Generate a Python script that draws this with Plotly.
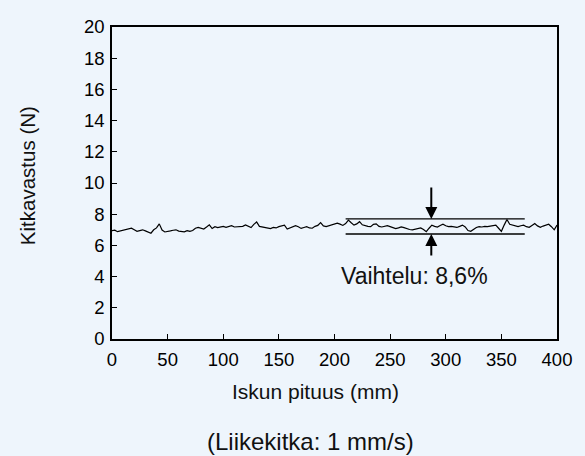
import plotly.graph_objects as go

# stroke position (mm) and friction (N)
x_mm = [i * 2.5 for i in range(161)]
friction = [
    6.95, 6.98, 6.88, 6.92, 6.97, 7.00, 7.04, 7.10, 7.00, 6.90,
    6.95, 7.00, 6.93, 6.85, 6.78, 7.00, 7.12, 7.38, 6.98, 6.86,
    6.88, 6.93, 6.97, 7.00, 6.92, 6.88, 6.87, 6.95, 6.90, 6.95,
    7.10, 7.15, 7.12, 7.05, 7.18, 7.32, 7.08, 7.20, 7.14, 7.18,
    7.22, 7.16, 7.20, 7.26, 7.18, 7.20, 7.24, 7.22, 7.31, 7.20,
    7.14, 7.35, 7.50, 7.22, 7.18, 7.14, 7.10, 7.08, 7.15, 7.12,
    7.20, 7.26, 7.30, 7.05, 7.12, 7.18, 7.26, 7.20, 7.09, 7.15,
    7.20, 7.12, 7.10, 7.22, 7.28, 7.46, 7.25, 7.20, 7.26, 7.32,
    7.38, 7.42, 7.36, 7.28, 7.40, 7.62, 7.45, 7.30, 7.38, 7.52,
    7.32, 7.25, 7.22, 7.20, 7.35, 7.38, 7.22, 7.18, 7.24, 7.26,
    7.20, 7.15, 7.08, 7.12, 7.18, 7.14, 7.06, 7.02, 7.00, 7.05,
    7.10, 7.12, 7.02, 6.88, 7.10, 7.30, 7.22, 7.18, 7.28, 7.36,
    7.26, 7.20, 7.22, 7.18, 7.15, 7.22, 7.30, 7.18, 6.95, 6.90,
    7.05, 7.15, 7.20, 7.18, 7.22, 7.20, 7.24, 7.28, 7.30, 7.10,
    6.90, 7.30, 7.66, 7.35, 7.30, 7.22, 7.20, 7.26, 7.30, 7.20,
    7.16, 7.28, 7.40, 7.25, 7.16, 7.24, 7.32, 7.36, 7.20, 7.00,
    7.30,
]

x_ticks = [0, 50, 100, 150, 200, 250, 300, 350, 400]
y_ticks = [0, 2, 4, 6, 8, 10, 12, 14, 16, 18, 20]

band_x = [210, 371]          # variation band extent (mm)
band_y = [6.73, 7.70]        # lower / upper limits (N)
arrow_x = 287
arrow_tail = [5.25, 9.8]     # lower / upper arrow tails (N)
label_pos = [272, 4.05]
label_text = "Vaihtelu: 8,6%"

BG = "#eef5fc"
FONT = "Liberation Sans, Arial, sans-serif"

fig = go.Figure()
fig.add_trace(go.Scatter(x=x_mm, y=friction, mode="lines",
                         line=dict(color="black", width=1.2),
                         hoverinfo="skip", showlegend=False))

for yy in band_y:
    fig.add_shape(type="line", xref="x", yref="y",
                  x0=band_x[0], x1=band_x[1], y0=yy, y1=yy,
                  line=dict(color="black", width=1.3))

# arrows
for tip, tail in ((band_y[1], arrow_tail[1]), (band_y[0], arrow_tail[0])):
    fig.add_annotation(x=arrow_x, y=tip, ax=arrow_x, ay=tail,
                       xref="x", yref="y", axref="x", ayref="y",
                       showarrow=True, arrowhead=2, arrowsize=1.2, arrowwidth=2,
                       arrowcolor="black", text="")
fig.add_annotation(x=label_pos[0], y=label_pos[1], xref="x", yref="y",
                   text=label_text, showarrow=False,
                   font=dict(size=23, color="#111", family=FONT))

# titles
fig.add_annotation(x=0.458, y=-0.167, xref="paper", yref="paper",
                   text="Iskun pituus (mm)", showarrow=False,
                   xanchor="center", yanchor="middle",
                   font=dict(size=21, color="#111", family=FONT))
fig.add_annotation(x=-0.191, y=0.522, xref="paper", yref="paper",
                   text="Kitkavastus (N)", showarrow=False, textangle=-90,
                   xanchor="center", yanchor="middle",
                   font=dict(size=20.5, color="#111", family=FONT))
fig.add_annotation(x=0.447, y=-0.33, xref="paper", yref="paper",
                   text="(Liikekitka: 1 mm/s)", showarrow=False,
                   xanchor="center", yanchor="middle",
                   font=dict(size=24, color="#111", family=FONT))

axis_common = dict(showgrid=False, zeroline=False, showline=True,
                   linecolor="black", linewidth=1.5, mirror=True,
                   ticks="inside", ticklen=5, tickwidth=1.3, tickcolor="black",
                   tickfont=dict(size=18.5, color="black", family=FONT))

fig.update_xaxes(range=[0, 400], tickvals=x_ticks,
                 ticktext=[str(v) for v in x_ticks],
                 ticklabelstandoff=3, **axis_common)
fig.update_yaxes(range=[0, 20], tickvals=y_ticks,
                 ticktext=[str(v) for v in y_ticks],
                 ticklabelstandoff=2, **axis_common)

fig.update_layout(width=585, height=456,
                  margin=dict(l=112, r=28, t=27, b=117),
                  paper_bgcolor=BG, plot_bgcolor=BG,
                  font=dict(family=FONT))

fig.write_html("out.html")
